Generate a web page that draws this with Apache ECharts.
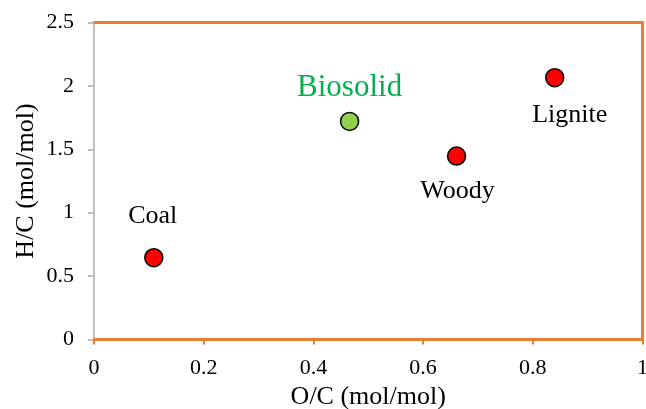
<!DOCTYPE html>
<html>
<head>
<meta charset="utf-8">
<script src="https://cdn.jsdelivr.net/npm/echarts@6/dist/echarts.min.js"></script>
<style>
  html, body { margin: 0; padding: 0; background: #fff; }
  #chart { width: 646px; height: 409px; }
</style>
</head>
<body>
<div id="chart"></div>
<script>
// Fuel samples: atomic O/C and H/C ratios (mol/mol)
const fuels = ['Coal', 'Biosolid', 'Woody', 'Lignite'];
const oc = [0.109, 0.466, 0.661, 0.840];
const hc = [0.645, 1.720, 1.447, 2.065];
const xTicks = [0, 0.2, 0.4, 0.6, 0.8, 1];
const yTicks = [0, 0.5, 1, 1.5, 2, 2.5];

// Marker fill and label look per sample
const fills = { Coal: '#FF0000', Biosolid: '#92D050', Woody: '#FF0000', Lignite: '#FF0000' };
const labelColors = { Coal: '#000000', Biosolid: '#00B050', Woody: '#000000', Lignite: '#000000' };
const labelSizes = { Coal: 26, Biosolid: 31, Woody: 26, Lignite: 26 };
const labelOffsets = { Coal: [-1, -42], Biosolid: [0, -34], Woody: [1, 35], Lignite: [15, 38] };

const ORANGE = '#ED7D31';
const GRAY = '#BFBFBF';
const FONT = '"Liberation Serif", "Times New Roman", serif';

const points = fuels.map((name, i) => ({
  name: name,
  value: [oc[i], hc[i]],
  itemStyle: { color: fills[name] },
  label: {
    show: true,
    formatter: name,
    position: 'inside',
    offset: labelOffsets[name],
    color: labelColors[name],
    fontSize: labelSizes[name],
    fontFamily: FONT
  }
}));

const fmt = v => String(parseFloat(v.toFixed(1)));

const chart = echarts.init(document.getElementById('chart'), null, { renderer: 'canvas' });
chart.setOption({
  animation: false,
  backgroundColor: '#ffffff',
  grid: {
    left: 94, right: 3.5, top: 22.5, bottom: 69.5,
    outerBoundsMode: 'none',
    containLabel: false,
    show: true, borderColor: ORANGE, borderWidth: 1, backgroundColor: 'transparent'
  },
  xAxis: [{
    type: 'value',
    min: xTicks[0], max: xTicks[xTicks.length - 1], interval: 0.2,
    name: 'O/C (mol/mol)',
    nameLocation: 'middle',
    nameGap: 45,
    nameMoveOverlap: false,
    nameTextStyle: { fontFamily: FONT, fontSize: 26, color: '#000' },
    axisLine: { show: true, onZero: false, lineStyle: { color: ORANGE, width: 3 } },
    axisTick: { show: true, length: 5, lineStyle: { color: ORANGE, width: 2 } },
    axisLabel: { margin: 18, fontFamily: FONT, fontSize: 22, color: '#000', formatter: fmt },
    splitLine: { show: false }
  }, {
    type: 'value', position: 'top',
    min: xTicks[0], max: xTicks[xTicks.length - 1],
    axisLine: { show: true, onZero: false, lineStyle: { color: ORANGE, width: 3 } },
    axisTick: { show: false }, axisLabel: { show: false }, splitLine: { show: false }
  }],
  yAxis: [{
    type: 'value',
    min: yTicks[0], max: yTicks[yTicks.length - 1], interval: 0.5,
    name: 'H/C (mol/mol)',
    nameLocation: 'middle',
    nameGap: 55,
    nameMoveOverlap: false,
    nameTextStyle: { fontFamily: FONT, fontSize: 26, color: '#000' },
    axisLine: { show: true, onZero: false, lineStyle: { color: GRAY, width: 2 } },
    axisTick: { show: true, length: 6, lineStyle: { color: GRAY, width: 2 } },
    axisLabel: { margin: 20, fontFamily: FONT, fontSize: 22, color: '#000', formatter: fmt },
    splitLine: { show: false }
  }, {
    type: 'value', position: 'right',
    min: yTicks[0], max: yTicks[yTicks.length - 1],
    axisLine: { show: true, onZero: false, lineStyle: { color: ORANGE, width: 3 } },
    axisTick: { show: false }, axisLabel: { show: false }, splitLine: { show: false }
  }],
  series: [{
    type: 'scatter',
    xAxisIndex: 0, yAxisIndex: 0,
    symbol: 'circle',
    symbolSize: 18,
    itemStyle: { borderColor: '#000', borderWidth: 1.5, opacity: 1 },
    data: points
  }]
});
</script>
</body>
</html>
